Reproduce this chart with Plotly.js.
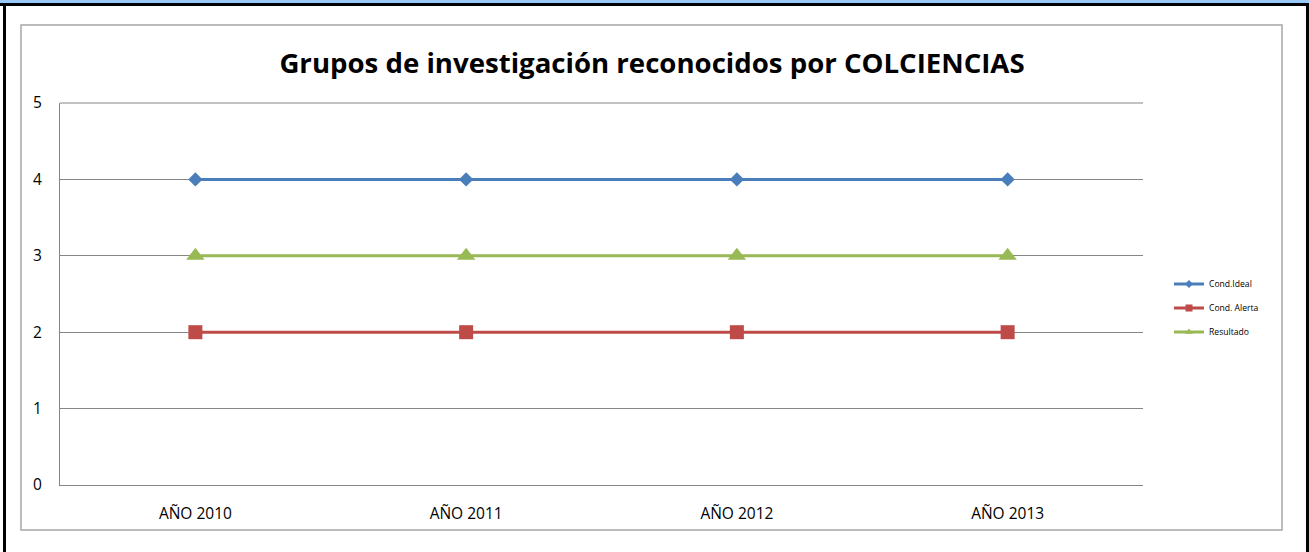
<!DOCTYPE html>
<html>
<head>
<meta charset="utf-8">
<script src="https://cdn.plot.ly/plotly-3.0.1.min.js"></script>
<style>
html,body{margin:0;padding:0;background:#fff;}
#chart{width:1309px;height:552px;}
</style>
</head>
<body>
<div id="chart"></div>
<script>
const categories = ["AÑO 2010", "AÑO 2011", "AÑO 2012", "AÑO 2013"];
const condIdeal = [4, 4, 4, 4];
const condAlerta = [2, 2, 2, 2];
const resultado = [3, 3, 3, 3];
const seriesNames = ["Cond.Ideal", "Cond. Alerta", "Resultado"];
const seriesColors = ["#4a7ebb", "#be4b48", "#98b954"];
const titleText = "Grupos de investigación reconocidos por COLCIENCIAS";

const W = 1309, H = 552;
const L = 60, R = 1143, T = 103, B = 485;
const px = x => (x - L) / (R - L);
const py = y => (B - y) / (B - T);

function rect(x0, y0, x1, y1, fill, line, lw) {
  return {type: 'rect', xref: 'paper', yref: 'paper', layer: 'below',
    x0: px(x0), x1: px(x1), y0: py(y1), y1: py(y0),
    fillcolor: fill || 'rgba(0,0,0,0)',
    line: {color: line || 'rgba(0,0,0,0)', width: lw || 0}};
}

const font = "'Open Sans', Lato, sans-serif";
const seriesData = [condIdeal, condAlerta, resultado];
const symbols = ['diamond', 'square', 'triangle-up'];
const sizes = [11, 14, 16];
const legendSizes = [6, 7, 7];
const legendIds = ['legend', 'legend2', 'legend3'];

const traces = [];
seriesData.forEach((vals, i) => {
  traces.push({x: categories, y: vals, name: seriesNames[i], type: 'scatter', mode: 'lines+markers',
    line: {color: seriesColors[i], width: 3},
    marker: {symbol: symbols[i], size: sizes[i], color: seriesColors[i]},
    showlegend: false});
});
// legend-only entries (no data) so the key can use small markers like the original
seriesData.forEach((vals, i) => {
  traces.push({x: [null], y: [null], name: seriesNames[i], type: 'scatter', mode: 'lines+markers',
    line: {color: seriesColors[i], width: 3},
    marker: {symbol: symbols[i], size: legendSizes[i], color: seriesColors[i]},
    showlegend: true, legend: legendIds[i], hoverinfo: 'skip'});
});

const legBase = {xref: 'paper', yref: 'paper', xanchor: 'left', yanchor: 'middle',
  bgcolor: 'rgba(0,0,0,0)', borderwidth: 0, font: {family: font, size: 8.6, color: '#000'}};

const layout = {
  width: W, height: H,
  margin: {l: L, r: W - R, t: T, b: H - B, pad: 0},
  paper_bgcolor: '#fff', plot_bgcolor: '#fff',
  title: {text: '<b>' + titleText + '</b>', x: 652 / W, xanchor: 'center', xref: 'container',
    y: 1 - 63 / H, yanchor: 'middle', yref: 'container',
    font: {family: font, size: 27.6, color: '#000'}},
  xaxis: {type: 'category', range: [-0.5, 3.5], showgrid: false, zeroline: false,
    showline: true, linecolor: '#868686', linewidth: 1, ticks: '', ticklabelstandoff: 14,
    tickfont: {family: font, size: 15.5, color: '#000'}, fixedrange: true},
  yaxis: {range: [0, 5], dtick: 1, tick0: 0, showgrid: true, gridcolor: '#868686', gridwidth: 1,
    zeroline: false, showline: true, linecolor: '#868686', linewidth: 1, ticks: '', ticklabelstandoff: 14,
    tickfont: {family: font, size: 15.5, color: '#000'}, fixedrange: true},
  showlegend: true,
  legend: Object.assign({}, legBase, {x: px(1169), y: py(284)}),
  legend2: Object.assign({}, legBase, {x: px(1169), y: py(308)}),
  legend3: Object.assign({}, legBase, {x: px(1169), y: py(332)}),
  shapes: [
    rect(21, 25, 1282, 530, null, '#a6a6a6', 1.5),
    rect(0, 0, W, 3, '#99c9f7', null, 0),
    rect(0, 3, W, 6, '#000', null, 0),
    rect(3, 3, 6, H, '#000', null, 0),
    rect(1306, 3, W, H, '#000', null, 0),
    // top edge of the plot frame (gridline at the axis maximum)
    {type: 'line', xref: 'paper', yref: 'paper', x0: 0, x1: 1, y0: 1, y1: 1,
     line: {color: '#868686', width: 1}, layer: 'below'}
  ]
};

Plotly.newPlot('chart', traces, layout, {displayModeBar: false, staticPlot: true});
</script>
</body>
</html>
